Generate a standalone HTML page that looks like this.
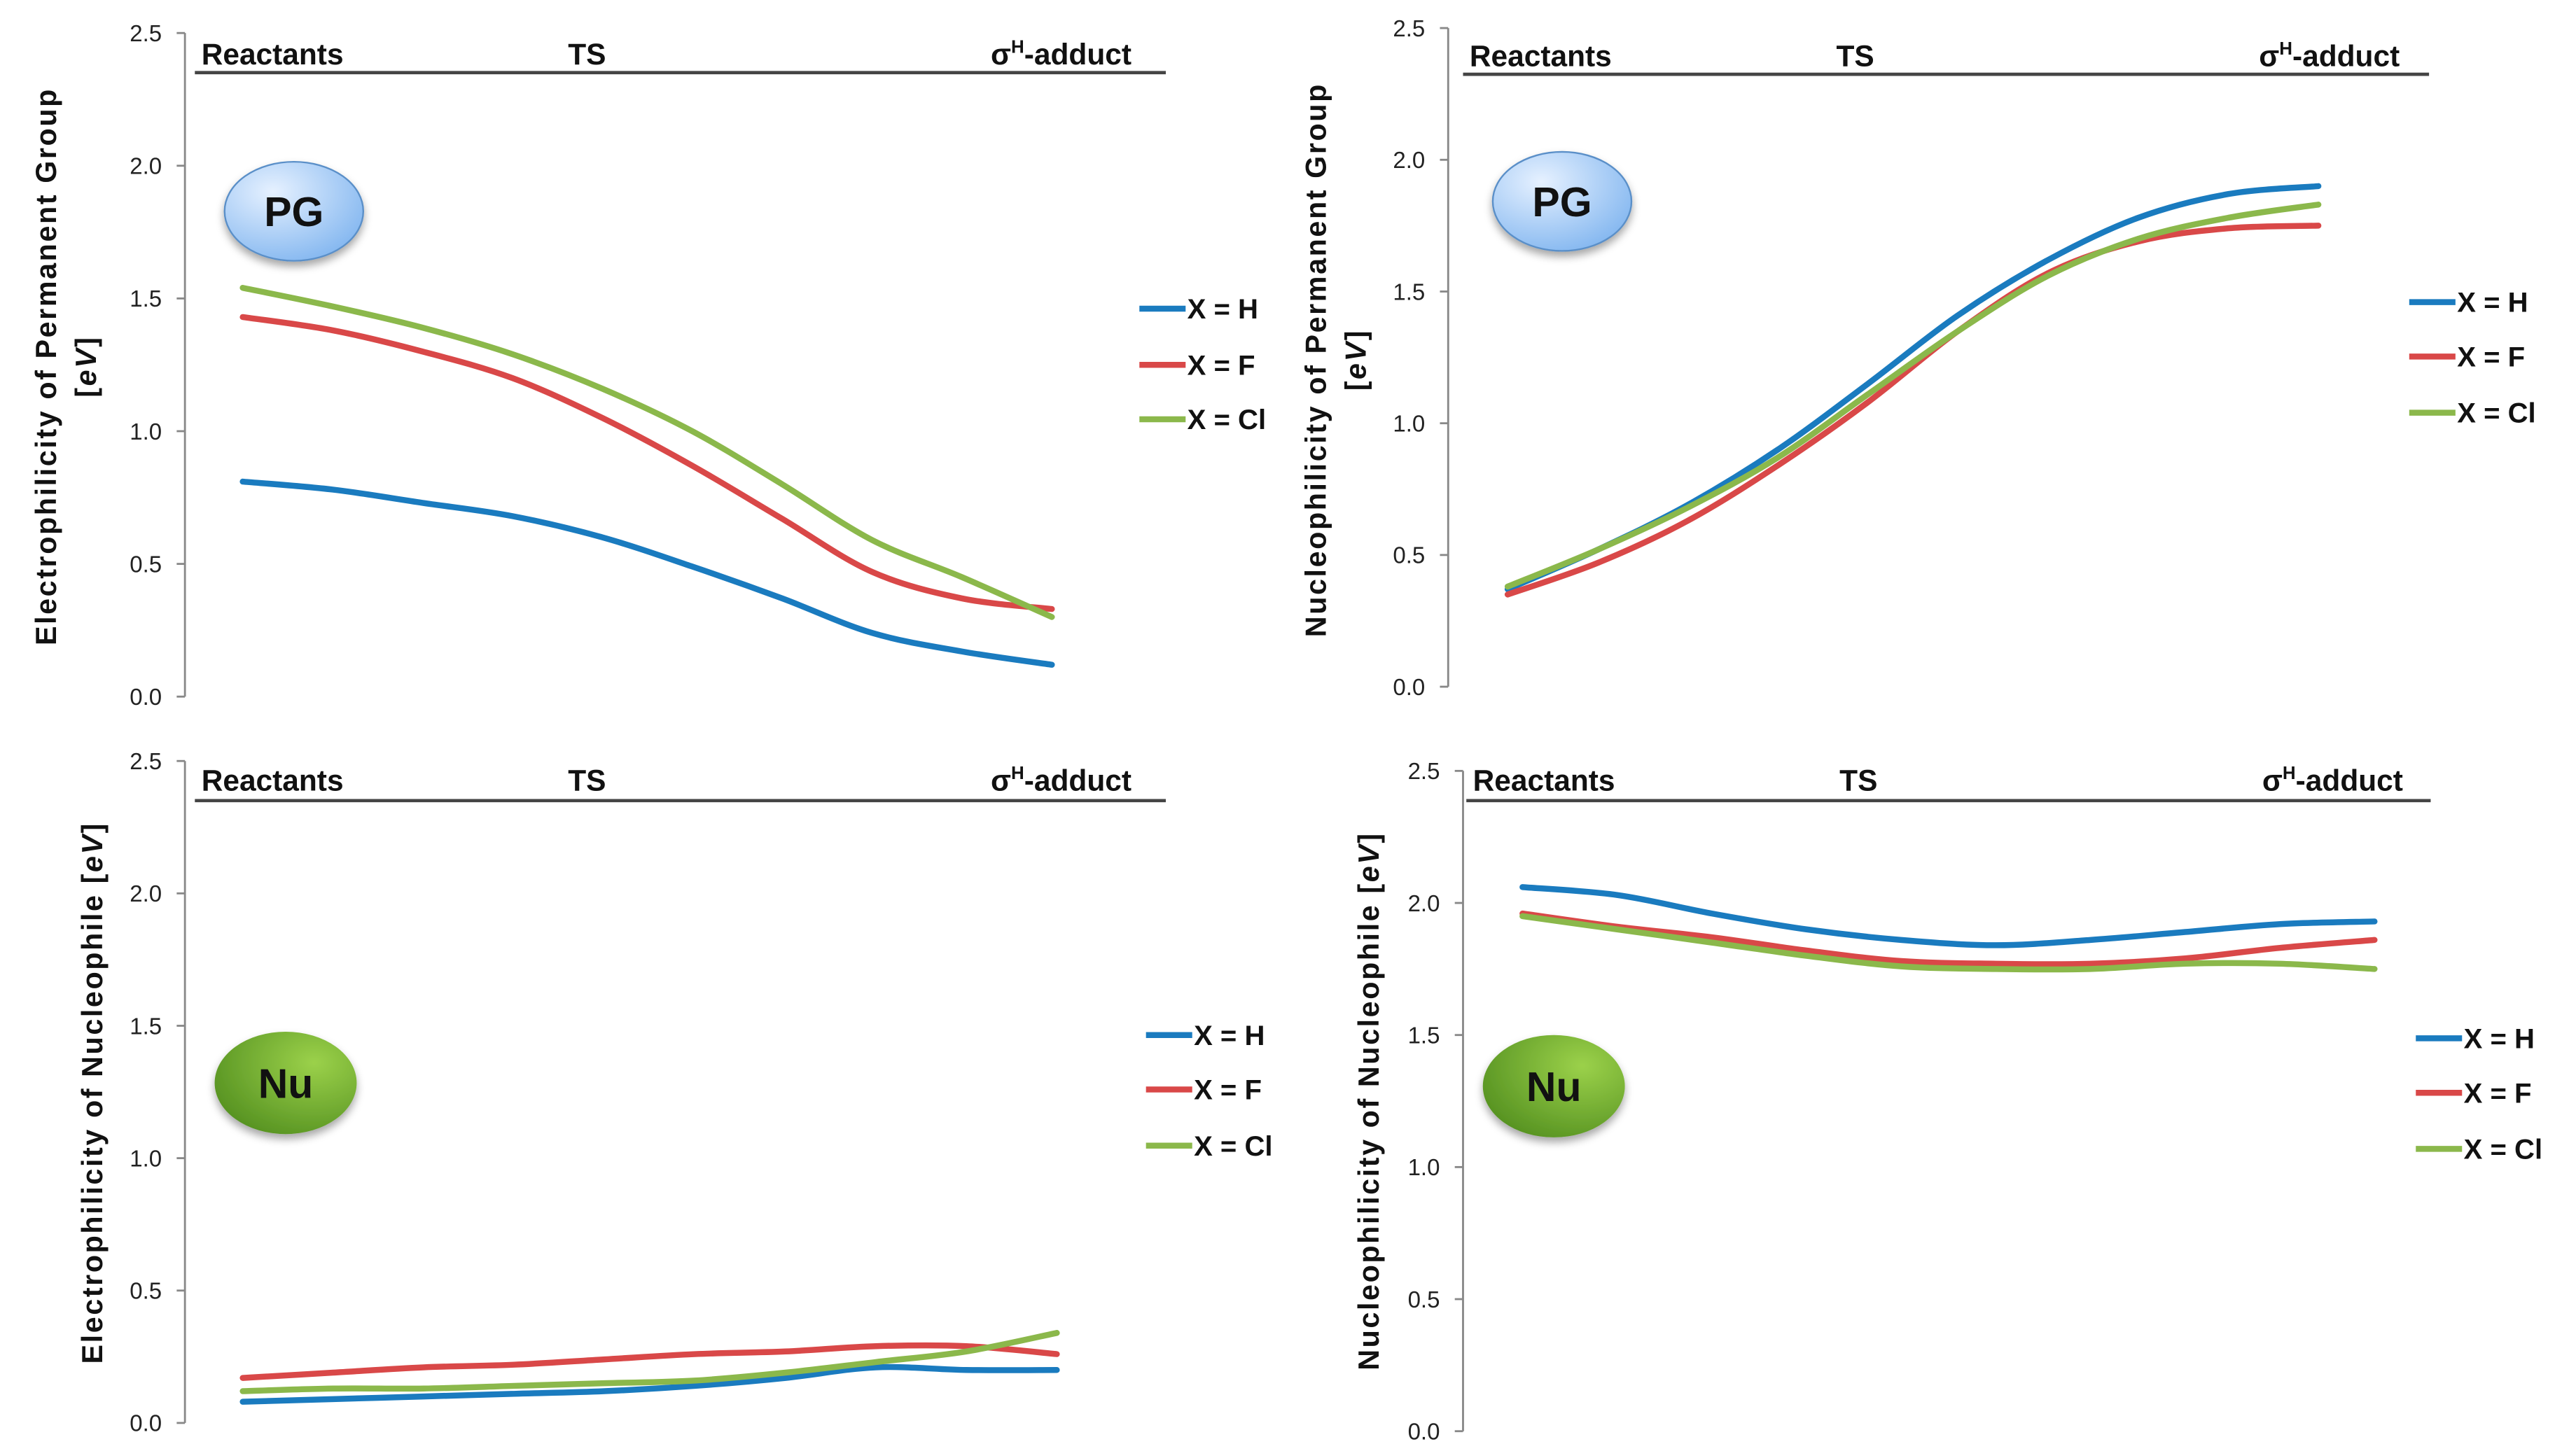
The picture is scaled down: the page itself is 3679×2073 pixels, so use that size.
<!DOCTYPE html>
<html><head><meta charset="utf-8"><style>
html,body{margin:0;padding:0;background:#fff}
svg{display:block}
text{font-family:"Liberation Sans",sans-serif}
</style></head><body>
<svg id="chart" width="3679" height="2073" viewBox="0 0 1560 879" preserveAspectRatio="none" xmlns="http://www.w3.org/2000/svg">
<defs>
<radialGradient id="gBlue" cx="0.35" cy="0.3" r="0.8"><stop offset="0" stop-color="#e6f1ff"/><stop offset="1" stop-color="#7fb4ef"/></radialGradient>
<radialGradient id="gGreen" cx="0.7" cy="0.3" r="0.9"><stop offset="0" stop-color="#9bd14a"/><stop offset="1" stop-color="#4d8a1c"/></radialGradient>
<filter id="sh" x="-30%" y="-30%" width="160%" height="170%"><feDropShadow dx="0" dy="3" stdDeviation="2.5" flood-color="#000" flood-opacity="0.35"/></filter>
</defs>
</svg>
<script>
const seriesNames = ["X = H","X = F","X = Cl"];
const colors = ["#1a7bbf","#d94848","#8bb84b"];
const yTicks = [0,0.5,1,1.5,2,2.5];
const tickLabels = ["0.0","0.5","1.0","1.5","2.0","2.5"];
const stageLabels = ["Reactants","TS","σH-adduct"];
// Top-left: electrophilicity of PG
const tlH  = [0.81,0.78,0.73,0.68,0.60,0.49,0.37,0.24,0.17,0.12];
const tlF  = [1.43,1.38,1.30,1.20,1.05,0.87,0.67,0.47,0.37,0.33];
const tlCl = [1.54,1.47,1.39,1.29,1.16,1.00,0.80,0.59,0.45,0.30];
// Top-right: nucleophilicity of PG
const trH  = [0.37,0.52,0.69,0.90,1.15,1.41,1.62,1.78,1.87,1.90];
const trF  = [0.35,0.47,0.63,0.84,1.08,1.35,1.57,1.69,1.74,1.75];
const trCl = [0.38,0.52,0.68,0.87,1.11,1.35,1.56,1.70,1.78,1.83];
// Bottom-left: electrophilicity of Nu
const blH  = [0.08,0.09,0.10,0.11,0.12,0.14,0.17,0.21,0.20,0.20];
const blF  = [0.17,0.19,0.21,0.22,0.24,0.26,0.27,0.29,0.29,0.26];
const blCl = [0.12,0.13,0.13,0.14,0.15,0.16,0.19,0.23,0.27,0.34];
// Bottom-right: nucleophilicity of Nu
const brH  = [2.06,2.03,1.96,1.90,1.86,1.84,1.86,1.89,1.92,1.93];
const brF  = [1.96,1.91,1.87,1.82,1.78,1.77,1.77,1.79,1.83,1.86];
const brCl = [1.95,1.90,1.85,1.80,1.76,1.75,1.75,1.77,1.77,1.75];

const NS="http://www.w3.org/2000/svg";
const svg=document.getElementById('chart');
function mk(tag,attrs,parent){const e=document.createElementNS(NS,tag);for(const k in attrs)e.setAttribute(k,attrs[k]);(parent||svg).appendChild(e);return e;}

const panels=[
 {id:'tl',ax:112,y0:422,y25:20,hy:44,hx0:118,hx1:706,hty:39,dx0:147,dx1:637,lx:690,ly:[187,221,254],badge:'PG',bx:178,by:128,data:[tlH,tlF,tlCl],title:['Electrophilicity of Permanent Group','[eV]'],tx:34,ty:222},
 {id:'tr',ax:877,y0:416,y25:17,hy:45,hx0:886,hx1:1471,hty:40,dx0:913,dx1:1404,lx:1459,ly:[183,216,250],badge:'PG',bx:946,by:122,data:[trH,trF,trCl],title:['Nucleophilicity of Permanent Group','[eV]'],tx:803,ty:218},
 {id:'bl',ax:112,y0:862,y25:461,hy:485,hx0:118,hx1:706,hty:479,dx0:147,dx1:640,lx:694,ly:[627,660,694],badge:'Nu',bx:173,by:656,data:[blH,blF,blCl],title:['Electrophilicity of Nucleophile [eV]'],tx:62,ty:662},
 {id:'br',ax:886,y0:867,y25:467,hy:485,hx0:888,hx1:1472,hty:479,dx0:922,dx1:1438,lx:1463,ly:[629,662,696],badge:'Nu',bx:941,by:658,data:[brH,brF,brCl],title:['Nucleophilicity of Nucleophile [eV]'],tx:835,ty:667}
];

function smoothPath(pts){
 let d='M'+pts[0][0].toFixed(2)+','+pts[0][1].toFixed(2);
 for(let i=0;i<pts.length-1;i++){
  const p0=pts[Math.max(0,i-1)],p1=pts[i],p2=pts[i+1],p3=pts[Math.min(pts.length-1,i+2)];
  const c1=[p1[0]+(p2[0]-p0[0])/6,p1[1]+(p2[1]-p0[1])/6];
  const c2=[p2[0]-(p3[0]-p1[0])/6,p2[1]-(p3[1]-p1[1])/6];
  d+=' C'+c1[0].toFixed(2)+','+c1[1].toFixed(2)+' '+c2[0].toFixed(2)+','+c2[1].toFixed(2)+' '+p2[0].toFixed(2)+','+p2[1].toFixed(2);
 }
 return d;
}

panels.forEach(p=>{
 const g=mk('g',{});
 
 
 const yScale=v=>p.y0-(v/2.5)*(p.y0-p.y25);
 const xScale=(i,n)=>p.dx0+(p.dx1-p.dx0)*i/(n-1);
 const axis=mk('line',{x1:p.ax,y1:p.y25,x2:p.ax,y2:p.y0,stroke:'#888','stroke-width':1.2},g);
 
 
 yTicks.forEach((t,i)=>{
  const y=yScale(t);
  mk('line',{x1:p.ax-5,y1:y,x2:p.ax,y2:y,stroke:'#888','stroke-width':1.2},g);
  const tl=mk('text',{x:p.ax-14,y:y+5,'text-anchor':'end','font-size':14,fill:'#222'},g);
  tl.textContent=tickLabels[i];
  
  
 });
 const hl=mk('line',{x1:p.hx0,y1:p.hy,x2:p.hx1,y2:p.hy,stroke:'#444','stroke-width':2},g);
 
 
 const hxs=[p.hx0+4,p.hx0+226,p.hx0+482];
 stageLabels.forEach((s,i)=>{
  const t=mk('text',{x:hxs[i],y:p.hty,'font-size':18,'font-weight':'bold',fill:'#111'},g);
  if(i===2){t.innerHTML='σ<tspan font-size="11" dy="-7">H</tspan><tspan dy="7">-adduct</tspan>';}
  else t.textContent=s;
  
  
 });
 p.data.forEach((arr,si)=>{
  const pts=arr.map((v,i)=>[xScale(i,arr.length),yScale(v)]);
  const path=mk('path',{d:smoothPath(pts),fill:'none',stroke:colors[si],'stroke-width':3.6,'stroke-linecap':'round','stroke-linejoin':'round'},g);
  
  
  const ll=mk('line',{x1:p.lx,y1:p.ly[si],x2:p.lx+28,y2:p.ly[si],stroke:colors[si],'stroke-width':3.6},g);
  
  
  const lt=mk('text',{x:p.lx+29,y:p.ly[si]+6,'font-size':17,'font-weight':'bold',fill:'#111'},g);
  lt.textContent=seriesNames[si];
  
  
 });
 const isPG=p.badge==='PG';
 const el=mk('ellipse',{cx:p.bx,cy:p.by,rx:isPG?42:43,ry:isPG?30:31,fill:isPG?'url(#gBlue)':'url(#gGreen)',stroke:isPG?'#5a8fc8':'none','stroke-width':1,filter:'url(#sh)'},g);
 
 
 const bt=mk('text',{x:p.bx,y:p.by+9,'text-anchor':'middle','font-size':25,'font-weight':'bold',fill:'#111'},g);
 bt.textContent=p.badge;
 
 
 p.title.forEach((line,i)=>{
  const x=p.tx+i*24;
  const tt=mk('text',{x:x,y:p.ty,'text-anchor':'middle','font-size':17.5,'letter-spacing':1.1,'font-weight':'bold',fill:'#111',transform:'rotate(-90 '+x+' '+p.ty+')'},g);
  tt.innerHTML=line.replace('[eV]','[<tspan font-style="italic">eV</tspan>]');
  
  
 });
});
</script>
</body></html>
